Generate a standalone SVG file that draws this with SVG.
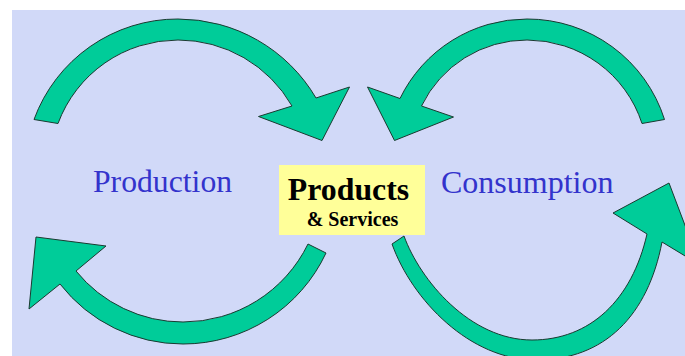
<svg xmlns="http://www.w3.org/2000/svg" width="685" height="356" viewBox="0 0 685 356">
<style>
.arrow{fill:#00cc99;stroke:#1a3a30;stroke-width:1;stroke-linejoin:miter}
.label{font-family:"Liberation Serif",serif;fill:#3333cc}
.title{font-family:"Liberation Serif",serif;font-weight:bold;fill:#000;text-anchor:middle}
</style>
<rect width="685" height="356" fill="#fff"/>
<rect x="12" y="10" width="673" height="346" fill="#d1d9f8"/>
<g id="connectors">
<path id="arrow-top-left" class="arrow" d="M34 119.500A153 153 0 0 1 178 19A160 160 0 0 1 316 98L349.500 87L322 140.500L258.500 116.500L292 106A131.500 131.500 0 0 0 178 40A128 128 0 0 0 58 123.500Z"/>
<path id="arrow-top-right" class="arrow" d="M664.500 119.500A144 144 0 0 0 527 19A141 141 0 0 0 400 98.500L367.500 87L394.500 140.500L453.500 117L421.500 106A117 117 0 0 1 527 40A121 121 0 0 1 642 123.500Z"/>
<path id="arrow-bottom-left" class="arrow" d="M326 253A158 158 0 0 1 183 344A156 156 0 0 1 60 284L29 309L36 237L106 246L76 271A138 138 0 0 0 183 322A139 139 0 0 0 308 244Z"/>
<path id="arrow-bottom-right" class="arrow" d="M392 244C412 300 470 360 536 360C605 360 648 315 662 242L700 265L669 183L613 213L647 234C632 300 590 340 532 340C470 340 420 280 404 236Z"/>
</g>
<g id="production"><text class="label" x="93" y="192" font-size="31.700">Production</text></g>
<g id="consumption"><text class="label" x="441" y="193" font-size="32">Consumption</text></g>
<g id="products">
<rect x="279" y="165" width="146" height="70" fill="#ffff99"/>
<text class="title" x="348.500" y="200" font-size="31.800">Products</text>
<text class="title" x="352.500" y="226" font-size="20">&amp; Services</text>
</g>
</svg>
